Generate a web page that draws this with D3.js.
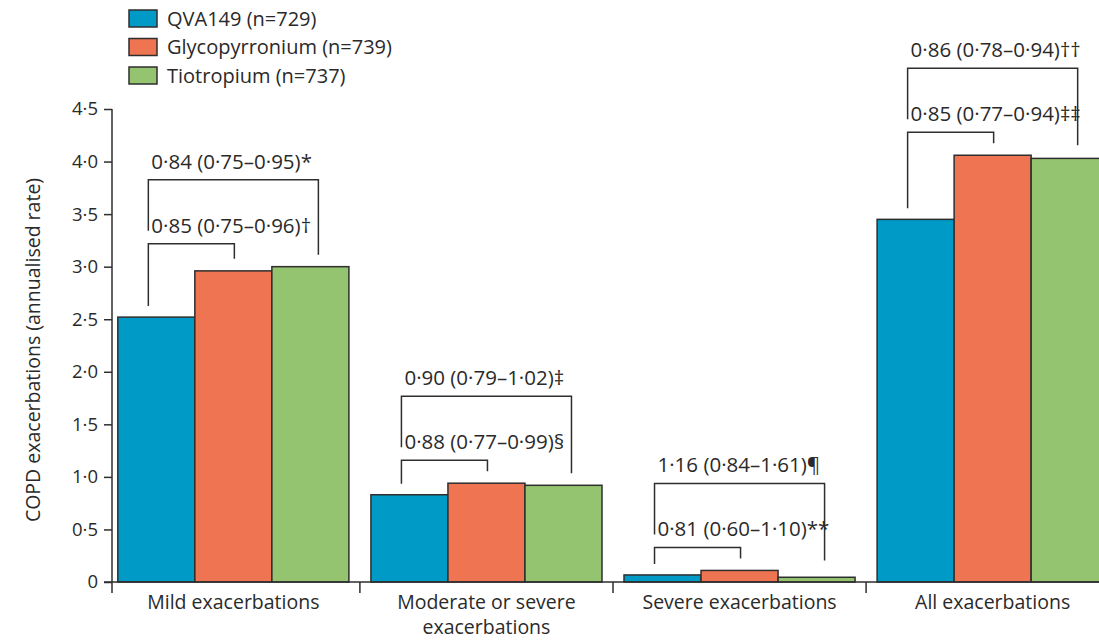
<!DOCTYPE html>
<html>
<head>
<meta charset="utf-8">
<script src="https://cdn.jsdelivr.net/npm/d3@7"></script>
<style>
  html, body { margin: 0; padding: 0; background: #fff; }
  svg { display: block; }
  text { font-family: "Open Sans", Lato, sans-serif; fill: #2a2a2a; }
</style>
</head>
<body>
<svg id="chart" width="1099" height="641"></svg>
<script>
// Exacerbation categories (x axis groups)
const categories = ["Mild exacerbations", "Moderate or severe exacerbations", "Severe exacerbations", "All exacerbations"];
const categoryLines = [["Mild exacerbations"], ["Moderate or severe", "exacerbations"], ["Severe exacerbations"], ["All exacerbations"]];

// Treatment arms
const series = ["QVA149 (n=729)", "Glycopyrronium (n=739)", "Tiotropium (n=737)"];
const seriesColors = ["#009ac6", "#ef7452", "#94c46f"];

// Annualised exacerbation rates, one array per arm (same order as categories)
const qva149 = [2.52, 0.83, 0.067, 3.45];
const glycopyrronium = [2.96, 0.94, 0.11, 4.06];
const tiotropium = [3.00, 0.92, 0.045, 4.03];

// Rate ratios: QVA149 vs tiotropium (outer bracket) and vs glycopyrronium (inner bracket)
const ratioVsTiotropium = ["0·84 (0·75–0·95)*", "0·90 (0·79–1·02)‡", "1·16 (0·84–1·61)¶", "0·86 (0·78–0·94)††"];
const ratioVsGlycopyrronium = ["0·85 (0·75–0·96)†", "0·88 (0·77–0·99)§", "0·81 (0·60–1·10)**", "0·85 (0·77–0·94)‡‡"];

// Y axis ticks
const yTicks = [0, 0.5, 1.0, 1.5, 2.0, 2.5, 3.0, 3.5, 4.0, 4.5];

const svg = d3.select("#chart");
const ink = "#2e2e2e";

const axisX = 112, baseY = 582, topY = 109;

const y = d3.scaleLinear().domain([0, 4.5]).range([baseY, topY]);

const x0 = d3.scaleBand()
  .domain(categories)
  .range([axisX, 1114])
  .paddingInner(0.087)
  .paddingOuter(0.023);

const x1 = d3.scaleBand()
  .domain(series)
  .range([0, x0.bandwidth()])
  .padding(0);

const values = [qva149, glycopyrronium, tiotropium];

const fmt = d => d === 0 ? "0" : d3.format(".1f")(d).replace(".", "·");

// Bars
const groups = svg.append("g").selectAll("g")
  .data(categories)
  .join("g")
  .attr("transform", d => `translate(${x0(d)},0)`);

groups.selectAll("rect")
  .data((c, ci) => series.map((s, si) => ({ s, si, v: values[si][ci] })))
  .join("rect")
  .attr("x", d => x1(d.s))
  .attr("y", d => y(d.v))
  .attr("width", x1.bandwidth())
  .attr("height", d => baseY - y(d.v))
  .attr("fill", d => seriesColors[d.si])
  .attr("stroke", ink)
  .attr("stroke-width", 1.5);

// Y axis
const yAxis = d3.axisLeft(y).tickValues(yTicks).tickFormat(fmt).tickSize(8).tickPadding(6);
const gy = svg.append("g").attr("transform", `translate(${axisX},0)`).call(yAxis);
gy.select(".domain").remove();
gy.append("line").attr("x1", 0).attr("x2", 0).attr("y1", topY).attr("y2", baseY + 11)
  .attr("stroke", ink).attr("stroke-width", 1.5);
gy.selectAll(".tick line").attr("stroke", ink).attr("stroke-width", 1.5);
gy.selectAll(".tick text").style("font-family", "'Open Sans', sans-serif").style("font-size", "18.5px").attr("fill", "#2a2a2a");

// X axis baseline and group separators
svg.append("line").attr("x1", axisX - 8).attr("x2", 1099).attr("y1", baseY).attr("y2", baseY)
  .attr("stroke", ink).attr("stroke-width", 1.5);
const step = x0.step();
categories.slice(1).forEach(c => {
  const tx = x0(c) - step * x0.paddingInner() / 2;
  svg.append("line").attr("x1", tx).attr("x2", tx).attr("y1", baseY).attr("y2", baseY + 11)
    .attr("stroke", ink).attr("stroke-width", 1.5);
});

// Category labels
categories.forEach((c, i) => {
  const cx = x0(c) + x0.bandwidth() / 2;
  const t = svg.append("text").attr("x", cx).attr("y", 609).attr("text-anchor", "middle")
    .style("font-size", "19.5px");
  categoryLines[i].forEach((ln, li) => {
    t.append("tspan").attr("x", cx).attr("dy", li === 0 ? 0 : 25).text(ln);
  });
});

// Y axis title
svg.append("text")
  .attr("transform", `translate(40,350) rotate(-90)`)
  .attr("text-anchor", "middle")
  .style("font-size", "19.5px")
  .text("COPD exacerbations (annualised rate)");

// Comparison brackets
categories.forEach((c, ci) => {
  const g = svg.append("g").attr("transform", `translate(${x0(c)},0)`);
  const cQ = x1(series[0]) + x1.bandwidth() / 2;
  const cG = x1(series[1]) + x1.bandwidth() / 2;
  const cT = x1(series[2]) + x1.bandwidth() / 2;
  const topQ = y(qva149[ci]), topG = y(glycopyrronium[ci]), topT = y(tiotropium[ci]);
  const maxTop = Math.min(topQ, topG, topT);
  const innerY = maxTop - 23;
  const outerY = innerY - 64;
  const left = cQ - 8, innerRight = cG + 1, outerRight = cT + 8;

  const line = d3.line();
  g.append("path")
    .attr("d", line([[left, topQ - 11], [left, innerY], [innerRight, innerY], [innerRight, topG - 12]]))
    .attr("fill", "none").attr("stroke", ink).attr("stroke-width", 1.5);
  g.append("path")
    .attr("d", line([[left, innerY - 13], [left, outerY], [outerRight, outerY],
                     [outerRight, Math.min(topT - 12, innerY + 13)]]))
    .attr("fill", "none").attr("stroke", ink).attr("stroke-width", 1.5);

  g.append("text").attr("x", left + 3).attr("y", innerY - 11)
    .style("font-size", "20.5px").text(ratioVsGlycopyrronium[ci]);
  g.append("text").attr("x", left + 3).attr("y", outerY - 11)
    .style("font-size", "20.5px").text(ratioVsTiotropium[ci]);
});

// Legend
const legend = svg.append("g");
series.forEach((s, i) => {
  const cy = 18.5 + i * 28.5;
  legend.append("rect").attr("x", 129).attr("y", cy - 8.5).attr("width", 28).attr("height", 17)
    .attr("fill", seriesColors[i]).attr("stroke", ink).attr("stroke-width", 1.5);
  legend.append("text").attr("x", 167).attr("y", cy + 7).style("font-size", "20px").text(s);
});
</script>
</body>
</html>
